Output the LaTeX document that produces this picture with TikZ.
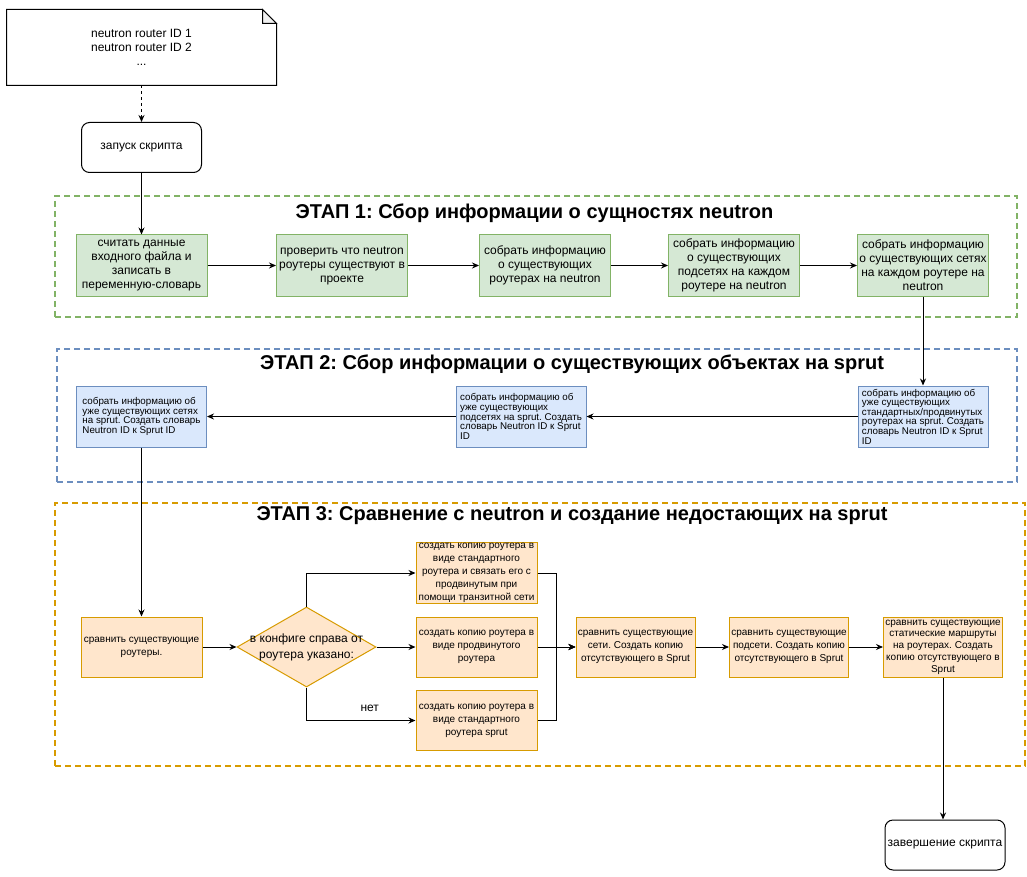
\documentclass[tikz,border=0pt]{standalone}
\usepackage{fontspec}
\setmainfont{Liberation Sans}
\usetikzlibrary{shapes.geometric,arrows.meta}
\definecolor{greenline}{HTML}{82B366}
\definecolor{greenfill}{HTML}{D5E8D4}
\definecolor{blueline}{HTML}{6C8EBF}
\definecolor{bluefill}{HTML}{DAE8FC}
\definecolor{orangeline}{HTML}{D79B00}
\definecolor{orangefill}{HTML}{FFE6CC}
\newcommand{\fsz}[2]{\fontsize{#1}{#2}\selectfont}
\frenchspacing

\begin{document}
\begin{tikzpicture}[x=1pt,y=-1pt]

%
% Styles
%
\tikzstyle{box} = [rectangle,line width=1pt,inner sep=1pt,align=center]
\tikzstyle{greenbox} = [box,draw=greenline,fill=greenfill,minimum width=131pt,minimum height=61pt,font=\fsz{12}{14}]
\tikzstyle{bluebox} = [box,draw=blueline,fill=bluefill,minimum width=130pt,minimum height=61pt,align=left,font=\fsz{9.8}{9.6}]
\tikzstyle{orangebox} = [box,draw=orangeline,fill=orangefill,minimum width=121pt,minimum height=60pt,font=\fsz{10}{13}]
\tikzstyle{decision} = [diamond,draw=orangeline,fill=orangefill,line width=1pt,inner sep=0pt,minimum width=139pt,minimum height=80pt]
\tikzstyle{terminal} = [box,draw,rounded corners=8pt,minimum width=120pt,minimum height=50pt,font=\fsz{12}{14}]
\tikzstyle{stage} = [rectangle,line width=1.3pt,dash pattern=on 6pt off 4pt]
\tikzstyle{stagetitle} = [inner sep=0pt,font=\bfseries\fsz{20}{22}]
\tikzstyle{flow} = [line width=1pt,-{Stealth[length=7pt,width=6pt]}]

\useasboundingbox (0,0) rectangle (1027,877);

\node[stage,draw=greenline,minimum width=962pt,minimum height=121pt] (stage1) at (536,256.5) {};
\node[stage,draw=blueline,minimum width=960pt,minimum height=133pt] (stage2) at (537,415.5) {};
\node[stage,draw=orangeline,minimum width=970pt,minimum height=263pt] (stage3) at (540,634.5) {};

\node[stagetitle] (title1) at (534.5,213) {ЭТАП 1: Сбор информации о сущностях neutron};
\node[stagetitle] (title2) at (572,364) {ЭТАП 2: Сбор информации о существующих объектах на sprut};
\node[stagetitle] (title3) at (572,516) {ЭТАП 3: Сравнение с neutron и создание недостающих на sprut};

\node[box,minimum width=269pt,minimum height=75pt,font=\fsz{12}{14}] (ids) at (141.5,47.5) {neutron router ID 1\\neutron router ID 2\\...};
\draw[line width=1pt] (ids.south west) -- (ids.north west) -- ([xshift=-14pt]ids.north east) -- ([yshift=-14pt]ids.north east) -- (ids.south east) -- cycle;
\draw[line width=1pt,fill=gray!12] ([xshift=-14pt]ids.north east) -- ([xshift=-14pt,yshift=-14pt]ids.north east) -- ([yshift=-14pt]ids.north east) -- cycle;

\node[terminal] (start) at (141.5,147.5) {запуск скрипта};

\node[greenbox] (read)     at (141.5,265.5) {считать данные\\входного файла и\\записать в\\переменную-словарь};
\node[greenbox] (check)    at (342,265.5)   {проверить что neutron\\роутеры существуют в\\проекте};
\node[greenbox] (routers)  at (545,265.5)   {собрать информацию\\о существующих\\роутерах на neutron};
\node[greenbox] (subnets)  at (734,265.5)   {собрать информацию\\о существующих\\подсетях на каждом\\роутере на neutron};
\node[greenbox] (nets)     at (923,265.5)   {собрать информацию\\о существующих сетях\\на каждом роутере на\\neutron};

\node[bluebox] (srouters)  at (923,416.5) {собрать информацию об\\уже существующих\\стандартных/продвинутых\\роутерах на sprut. Создать\\словарь Neutron ID к Sprut\\ID};
\node[bluebox] (ssubnets)  at (521,416.5) {собрать информацию об\\уже существующих\\подсетях на sprut. Создать\\словарь Neutron ID к Sprut\\ID};
\node[bluebox] (snets)     at (141.5,416.5) {собрать информацию об\\уже существующих сетях\\на sprut. Создать словарь\\Neutron ID к Sprut ID};

\node[orangebox] (cmprouters) at (141.5,647) {сравнить существующие\\роутеры.};
\node[decision,label={[font=\fsz{12}{16},align=center]center:в конфиге справа от\\роутера указано:}] (cfg) at (306.5,647) {};
\node[orangebox] (cpytransit) at (476.5,573) {создать копию роутера в\\виде стандартного\\роутера и связать его с\\продвинутым при\\помощи транзитной сети};
\node[orangebox] (cpyadv)     at (476.5,647) {создать копию роутера в\\виде продвинутого\\роутера};
\node[orangebox] (cpystd)     at (476.5,720.5) {создать копию роутера в\\виде стандартного\\роутера sprut};
\coordinate (join) at (556,647);
\node[orangebox,minimum width=119pt] (cmpnets)    at (635.5,647) {сравнить существующие\\сети. Создать копию\\отсутствующего в Sprut};
\node[orangebox,minimum width=119pt] (cmpsubnets) at (789,647)   {сравнить существующие\\подсети. Создать копию\\отсутствующего в Sprut};
\node[orangebox,minimum width=119pt,font=\fsz{10}{11.7}] (cmproutes) at (943,647) {сравнить существующие\\статические маршруты\\на роутерах. Создать\\копию отсутствующего в\\Sprut};

\node[terminal] (done) at (945,845) {завершение скрипта};

\draw[flow,dashed] (ids) -- (start);
\draw[flow] (start) -- (read);
\draw[flow] (read) -- (check);
\draw[flow] (check) -- (routers);
\draw[flow] (routers) -- (subnets);
\draw[flow] (subnets) -- (nets);
\draw[flow] (nets) -- (srouters);
\draw[flow] (srouters) -- (ssubnets);
\draw[flow] (ssubnets) -- (snets);
\draw[flow] (snets) -- (cmprouters);
\draw[flow] (cmprouters) -- (cfg);
\draw[flow] (cfg.north) |- (cpytransit);
\draw[flow] (cfg) -- (cpyadv);
\draw[flow] (cfg.south) |- node[pos=0.79,above=5pt,font=\fsz{12}{14}] {нет} (cpystd);
\draw[flow] (cpytransit) -| (join) -- (cmpnets);
\draw[flow] (cpyadv) -- (cmpnets);
\draw[flow] (cpystd) -| (join) -- (cmpnets);
\draw[flow] (cmpnets) -- (cmpsubnets);
\draw[flow] (cmpsubnets) -- (cmproutes);
\draw[flow] (cmproutes.south) -- (cmproutes.south |- done.north);

\end{tikzpicture}
\end{document}
